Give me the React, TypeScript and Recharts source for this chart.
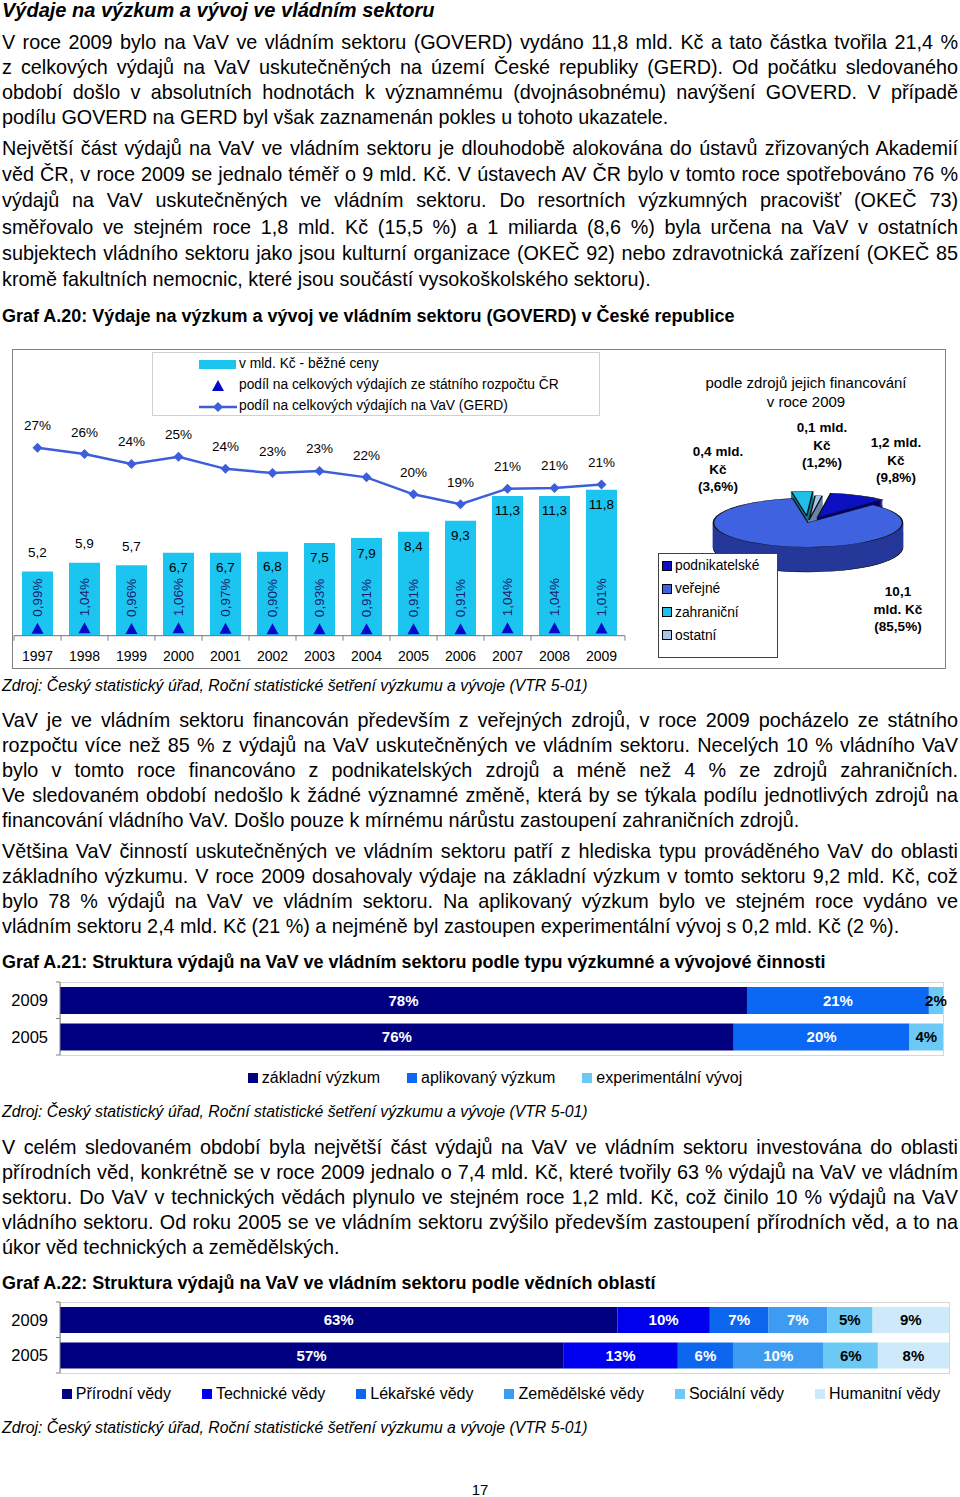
import React from "react";
import {
  ComposedChart,
  BarChart,
  PieChart,
  Pie,
  Cell,
  Bar,
  Line,
  XAxis,
  YAxis,
  LabelList,
} from "recharts";

// ---- Graf A.20 data ----
const years = ["1997", "1998", "1999", "2000", "2001", "2002", "2003", "2004", "2005", "2006", "2007", "2008", "2009"];
const goverdBn = [5.2, 5.9, 5.7, 6.7, 6.7, 6.8, 7.5, 7.9, 8.4, 9.3, 11.3, 11.3, 11.8];
const stateBudgetShare = [0.99, 1.04, 0.96, 1.06, 0.97, 0.9, 0.93, 0.91, 0.91, 0.91, 1.04, 1.04, 1.01];
const gerdShare = [26.6, 25.7, 24.3, 25.3, 23.6, 23.0, 23.3, 22.4, 20.0, 18.6, 20.8, 20.9, 21.4];

// ---- pie: zdroje financování 2009 ----
const fundingSources = ["podnikatelské", "veřejné", "zahraniční", "ostatní"];
const fundingBn = [1.2, 10.1, 0.4, 0.1];
const fundingShare = [9.8, 85.5, 3.6, 1.2];

// ---- Graf A.21 data ----
const typeYears = ["2009", "2005"];
const typeNames = ["základní výzkum", "aplikovaný výzkum", "experimentální vývoj"];
const typeShares = [
  [77.8, 76.3],
  [20.6, 19.9],
  [1.6, 3.8],
];

// ---- Graf A.22 data ----
const fieldYears = ["2009", "2005"];
const fieldNames = ["Přírodní vědy", "Technické vědy", "Lékařské vědy", "Zemědělské vědy", "Sociální vědy", "Humanitní vědy"];
const fieldShares = [
  [62.7, 56.6],
  [10.4, 12.9],
  [6.6, 6.2],
  [6.6, 10.2],
  [5.1, 6.1],
  [8.6, 8.0],
];

const comma = (v: number, d = 1) => v.toFixed(d).replace(".", ",");

const BAR_CYAN = "#1bc5f0";
const LINE_BLUE = "#3d5edb";
const TRI_BLUE = "#0808cc";

const para1 = [
  "V roce 2009 bylo na VaV ve vládním sektoru (GOVERD) vydáno 11,8 mld. Kč a tato částka tvořila 21,4 %",
  "z celkových výdajů na VaV uskutečněných na území České republiky (GERD). Od počátku sledovaného",
  "období došlo v absolutních hodnotách k významnému (dvojnásobnému) navýšení GOVERD. V případě",
  "podílu GOVERD na GERD byl však zaznamenán pokles u tohoto ukazatele.",
];
const para2 = [
  "Největší část výdajů na VaV ve vládním sektoru je dlouhodobě alokována do ústavů zřizovaných Akademií",
  "věd ČR, v roce 2009 se jednalo téměř o 9 mld. Kč. V ústavech AV ČR bylo v tomto roce spotřebováno 76 %",
  "výdajů na VaV uskutečněných ve vládním sektoru. Do resortních výzkumných pracovišť (OKEČ 73)",
  "směřovalo ve stejném roce 1,8 mld. Kč (15,5 %) a 1 miliarda (8,6 %) byla určena na VaV v ostatních",
  "subjektech vládního sektoru jako jsou kulturní organizace (OKEČ 92) nebo zdravotnická zařízení (OKEČ 85",
  "kromě fakultních nemocnic, které jsou součástí vysokoškolského sektoru).",
];
const para3 = [
  "VaV je ve vládním sektoru financován především z veřejných zdrojů, v roce 2009 pocházelo ze státního",
  "rozpočtu více než 85 % z výdajů na VaV uskutečněných ve vládním sektoru. Necelých 10 % vládního VaV",
  "bylo v tomto roce financováno z podnikatelských zdrojů a méně než 4 % ze zdrojů zahraničních.",
  "Ve sledovaném období nedošlo k žádné významné změně, která by se týkala podílu jednotlivých zdrojů na",
  "financování vládního VaV. Došlo pouze k mírnému nárůstu zastoupení zahraničních zdrojů.",
];
const para4 = [
  "Většina VaV činností uskutečněných ve vládním sektoru patří z hlediska  typu prováděného VaV do oblasti",
  "základního výzkumu. V roce 2009 dosahovaly výdaje na základní výzkum v tomto sektoru 9,2 mld. Kč, což",
  "bylo 78 % výdajů na VaV ve vládním sektoru. Na aplikovaný výzkum bylo ve stejném roce vydáno ve",
  "vládním sektoru 2,4 mld. Kč (21 %) a nejméně byl zastoupen experimentální vývoj s 0,2 mld. Kč (2 %).",
];
const para5 = [
  "V celém sledovaném období byla největší část výdajů na VaV ve vládním sektoru investována do oblasti",
  "přírodních věd, konkrétně se v roce 2009 jednalo o 7,4 mld. Kč, které tvořily 63 % výdajů na VaV ve vládním",
  "sektoru. Do VaV v technických vědách plynulo ve stejném roce 1,2 mld. Kč, což činilo 10 % výdajů na VaV",
  "vládního sektoru. Od roku 2005 se ve vládním sektoru zvýšilo především zastoupení přírodních věd, a to na",
  "úkor věd technických a zemědělských.",
];
const SOURCE = "Zdroj: Český statistický úřad, Roční statistické šetření výzkumu a vývoje (VTR 5-01)";

const Para = ({ top, lh, lines }: any) => (
  <div style={{ position: "absolute", left: 2, top, width: 956, fontSize: 19.8, lineHeight: `${lh}px` }}>
    {lines.map((t: string, i: number) => (
      <div
        key={i}
        style={{
          whiteSpace: "nowrap",
          textAlign: "justify",
          textAlignLast: i === lines.length - 1 ? "left" : "justify",
        }}
      >
        {t}
      </div>
    ))}
  </div>
);

const Heading = ({ top, children, style }: any) => (
  <div style={{ position: "absolute", left: 2, top, lineHeight: "20px", whiteSpace: "nowrap", ...style }}>
    {children}
  </div>
);

const Source = ({ top }: any) => (
  <div style={{ position: "absolute", left: 2, top, fontSize: 15.8, fontStyle: "italic", lineHeight: "18px", whiteSpace: "nowrap" }}>
    {SOURCE}
  </div>
);

// ---------- Graf A.20 ----------
const BAND = 47;

const YearTick = ({ x, y, payload, index }: any) => (
  <g>
    <line x1={x - BAND / 2} x2={x - BAND / 2} y1={y - 15} y2={y - 10} stroke="#808080" />
    {index === years.length - 1 && (
      <line x1={x + BAND / 2} x2={x + BAND / 2} y1={y - 15} y2={y - 10} stroke="#808080" />
    )}
    <text x={x} y={y} dy="0.71em" textAnchor="middle" fontSize={14} fill="#000">
      {payload.value}
    </text>
  </g>
);

const BarValue = (props: any) => {
  const { x, y, width, value } = props;
  const above = value < 6;
  return (
    <text
      x={x + width / 2}
      y={above ? y - 19 : y + 15}
      textAnchor="middle"
      dominantBaseline="central"
      fontSize={13.5}
      fill="#000"
    >
      {comma(value)}
    </text>
  );
};

const RotatedShare = (props: any) => {
  const { x, y, value } = props;
  const ty = y - 12;
  return (
    <text
      x={x}
      y={ty}
      transform={`rotate(-90 ${x} ${ty})`}
      textAnchor="start"
      dominantBaseline="central"
      fontSize={13.5}
      fill="#1b1b6b"
    >
      {comma(value, 2) + "%"}
    </text>
  );
};

const GerdLabel = (props: any) => {
  const { x, y, value } = props;
  return (
    <text x={x} y={y - 22} textAnchor="middle" dominantBaseline="central" fontSize={13.5} fill="#000">
      {Math.round(value) + "%"}
    </text>
  );
};

const Triangle = (props: any) => {
  const { cx, cy } = props;
  if (cx == null || cy == null) return null;
  return <path d={`M${cx},${cy - 6} L${cx + 6},${cy + 5} L${cx - 6},${cy + 5} Z`} fill={TRI_BLUE} />;
};

const Diamond = (props: any) => {
  const { cx, cy } = props;
  if (cx == null || cy == null) return null;
  return <path d={`M${cx},${cy - 5} L${cx + 5},${cy} L${cx},${cy + 5} L${cx - 5},${cy} Z`} fill={LINE_BLUE} />;
};

const goverdData = years.map((year, i) => ({
  year,
  goverd: goverdBn[i],
  state: stateBudgetShare[i],
  gerd: gerdShare[i],
}));

const GoverdChart = () => (
  <div style={{ position: "absolute", left: 0, top: 340 }}>
    <ComposedChart width={640} height={340} data={goverdData} margin={{ top: 20, right: 15, bottom: 14.3, left: 14 }}>
      <XAxis
        dataKey="year"
        height={30}
        axisLine={{ stroke: "#707070" }}
        tickLine={false}
        tickSize={5}
        tickMargin={10}
        interval={0}
        tick={<YearTick />}
      />
      <YAxis yAxisId="bn" hide domain={[0, 22.3]} />
      <YAxis yAxisId="pct" hide orientation="right" domain={[0, 39]} />
      <Bar yAxisId="bn" dataKey="goverd" barSize={31} fill={BAR_CYAN} isAnimationActive={false}>
        <LabelList dataKey="goverd" content={<BarValue />} />
      </Bar>
      <Line
        yAxisId="pct"
        dataKey="state"
        stroke="none"
        dot={<Triangle />}
        activeDot={false}
        isAnimationActive={false}
      >
        <LabelList dataKey="state" content={<RotatedShare />} />
      </Line>
      <Line
        yAxisId="pct"
        dataKey="gerd"
        stroke={LINE_BLUE}
        strokeWidth={2.5}
        dot={<Diamond />}
        activeDot={false}
        isAnimationActive={false}
      >
        <LabelList dataKey="gerd" content={<GerdLabel />} />
      </Line>
    </ComposedChart>
  </div>
);

const GoverdLegend = () => (
  <div style={{ position: "absolute", left: 152, top: 352, width: 448, height: 64, border: "1px solid #d0d0d0", boxSizing: "border-box", fontSize: 13.8 }}>
    <div style={{ position: "absolute", left: 46, top: 7, width: 37, height: 9, background: BAR_CYAN }} />
    <svg style={{ position: "absolute", left: 59, top: 27 }} width={12} height={12}>
      <path d="M6,0 L12,11 L0,11 Z" fill={TRI_BLUE} />
    </svg>
    <svg style={{ position: "absolute", left: 46, top: 48 }} width={38} height={12}>
      <line x1={0} x2={38} y1={6} y2={6} stroke={LINE_BLUE} strokeWidth={2.5} />
      <path d="M19,1 L24,6 L19,11 L14,6 Z" fill={LINE_BLUE} />
    </svg>
    <div style={{ position: "absolute", left: 86, top: 3, lineHeight: "16px", whiteSpace: "nowrap" }}>v mld. Kč - běžné ceny</div>
    <div style={{ position: "absolute", left: 86, top: 24, lineHeight: "16px", whiteSpace: "nowrap" }}>
      podíl na celkových výdajích ze státního rozpočtu ČR
    </div>
    <div style={{ position: "absolute", left: 86, top: 45, lineHeight: "16px", whiteSpace: "nowrap" }}>
      podíl na celkových výdajích na VaV (GERD)
    </div>
  </div>
);

// ---------- pie ----------
const PIE_SCALE = 0.259;
const PIE_R = 94.5;
const PIE_CX = 110;
const PIE_CY = 130;
const PIE_DEPTH = 96;
const PIE_START = 82;
const topColors = ["#0b10c2", "#3f62e0", "#1fc0e8", "#aac4e6"];
const sideColors = ["#00006c", "#26399a", "#0d7c9c", "#6b84a8"];
const explodeBy = [22, 0, 26, 10];

const pieData = fundingSources.map((name, i) => ({ name, value: fundingShare[i] }));
const pieTotal = fundingShare.reduce((a, b) => a + b, 0);
const midAngles = (() => {
  let acc = 0;
  return fundingShare.map((v) => {
    const a = PIE_START - ((acc + v / 2) / pieTotal) * 360;
    acc += v;
    return a;
  });
})();
const offsets = midAngles.map((a, i) => ({
  dx: explodeBy[i] * Math.cos((a * Math.PI) / 180),
  dy: -explodeBy[i] * Math.sin((a * Math.PI) / 180),
}));
const LAYERS = 24;

const sliceLayer = (s: number, lift: number, colors: string[], stroke: string, key: string) => (
  <Pie
    key={key}
    data={pieData}
    dataKey="value"
    cx={PIE_CX + offsets[s].dx}
    cy={PIE_CY + offsets[s].dy + lift}
    outerRadius={PIE_R}
    startAngle={PIE_START}
    endAngle={PIE_START - 360}
    isAnimationActive={false}
    label={false}
    labelLine={false}
  >
    {pieData.map((d, i) => (
      <Cell
        key={d.name}
        fill={i === s ? colors[i] : "none"}
        stroke={i === s ? (stroke === "same" ? colors[i] : stroke) : "none"}
        strokeWidth={i === s ? 1.5 : 0}
      />
    ))}
  </Pie>
);

const FundingPie = () => {
  const layers: any[] = [];
  for (let k = 0; k < LAYERS; k++) {
    const lift = PIE_DEPTH * (1 - k / LAYERS);
    fundingSources.forEach((_, s) => {
      layers.push(sliceLayer(s, lift, sideColors, k === 0 ? "#000" : "same", `side-${k}-${s}`));
    });
  }
  fundingSources.forEach((_, s) => layers.push(sliceLayer(s, 0, topColors, "#111", `top-${s}`)));
  return (
    <div
      style={{
        position: "absolute",
        left: 807.5 - PIE_CX,
        top: 522.5 - PIE_CY * PIE_SCALE,
        transform: `scaleY(${PIE_SCALE})`,
        transformOrigin: "0 0",
      }}
    >
      <PieChart width={220} height={340} margin={{ top: 0, right: 0, bottom: 0, left: 0 }}>
        {layers}
      </PieChart>
    </div>
  );
};

const PieNote = ({ cx, top, lines }: any) => (
  <div style={{ position: "absolute", left: cx - 50, top, width: 100, textAlign: "center", fontSize: 13.5, fontWeight: "bold", lineHeight: "17.5px" }}>
    {lines.map((l: string, i: number) => (
      <div key={i}>{l}</div>
    ))}
  </div>
);

const PieLegend = () => (
  <div style={{ position: "absolute", left: 658, top: 553, width: 120, height: 105, border: "1px solid #404040", background: "#fff", boxSizing: "border-box", fontSize: 13.8 }}>
    {fundingSources.map((name, i) => (
      <div key={name} style={{ position: "absolute", left: 3, top: 3 + i * 23.3, lineHeight: "17px", display: "flex", alignItems: "center", whiteSpace: "nowrap" }}>
        <span style={{ display: "inline-block", width: 8, height: 8, background: topColors[i], border: "1px solid #000", marginRight: 3 }} />
        {name}
      </div>
    ))}
  </div>
);

// ---------- Graf A.21 / A.22 ----------
const StructureChart = ({ top, height, plotRight, barSize, categories, names, values, colors, darkText, legendTop, legendCenter, legendGap }: any) => {
  const rows = categories.map((c: string, i: number) => {
    const r: any = { year: c };
    names.forEach((n: string, j: number) => (r[n] = values[j][i]));
    return r;
  });
  const plotTop = top + 7;
  const plotH = height - 12;
  const band = plotH / categories.length;
  const CatTick = ({ x, y, payload, index }: any) => (
    <g>
      <line x1={x + 8} x2={x + 4} y1={y - band / 2} y2={y - band / 2} stroke="#808080" />
      {index === categories.length - 1 && (
        <line x1={x + 8} x2={x + 4} y1={y + band / 2} y2={y + band / 2} stroke="#808080" />
      )}
      <text x={x - 4} y={y} textAnchor="end" dominantBaseline="central" fontSize={16.5} fill="#000">
        {payload.value}
      </text>
    </g>
  );
  return (
    <>
      <div style={{ position: "absolute", left: 60, top: plotTop, width: plotRight - 60 + 1, height: plotH + 1, border: "1px solid #d6d6d6", boxSizing: "border-box" }} />
      <div style={{ position: "absolute", left: 0, top }}>
        <BarChart
          layout="vertical"
          width={960}
          height={height}
          data={rows}
          margin={{ top: 7, right: 960 - plotRight, bottom: 5, left: 0 }}
        >
          <XAxis type="number" domain={[0, 100]} hide />
          <YAxis type="category" dataKey="year" width={60} axisLine={{ stroke: "#808080" }} tickLine={false} tick={<CatTick />} />
          {names.map((n: string, j: number) => (
            <Bar key={n} dataKey={n} stackId="s" fill={colors[j]} barSize={barSize} isAnimationActive={false}>
              <LabelList
                dataKey={n}
                position="center"
                formatter={(v: any) => Math.round(v) + "%"}
                fill={darkText[j] ? "#000" : "#fff"}
                fontWeight="bold"
                fontSize={15}
              />
            </Bar>
          ))}
        </BarChart>
      </div>
      <div style={{ position: "absolute", left: legendCenter - 600, top: legendTop, width: 1200, display: "flex", justifyContent: "center", gap: legendGap, fontSize: 16, lineHeight: "18px" }}>
        {names.map((n: string, j: number) => (
          <div key={n} style={{ display: "flex", alignItems: "center", whiteSpace: "nowrap" }}>
            <span style={{ display: "inline-block", width: 10, height: 10, background: colors[j], marginRight: 4 }} />
            {n}
          </div>
        ))}
      </div>
    </>
  );
};

export default function App() {
  return (
    <div style={{ position: "relative", width: 960, height: 1497, overflow: "hidden", background: "#fff", color: "#000", fontFamily: '"Liberation Sans", Arial, sans-serif' }}>
      <style>{`body{margin:0}`}</style>

      <Heading top={0} style={{ fontSize: 20, fontWeight: "bold", fontStyle: "italic" }}>
        Výdaje na výzkum a vývoj ve vládním sektoru
      </Heading>
      <Para top={29.5} lh={25} lines={para1} />
      <Para top={135} lh={26.2} lines={para2} />
      <Heading top={306} style={{ fontSize: 18, fontWeight: "bold" }}>
        Graf A.20: Výdaje na výzkum a vývoj ve vládním sektoru (GOVERD) v České republice
      </Heading>

      <div style={{ position: "absolute", left: 12, top: 349, width: 934, height: 320, border: "1px solid #808080", boxSizing: "border-box" }} />
      <GoverdChart />
      <GoverdLegend />

      <div style={{ position: "absolute", left: 656, top: 373, width: 300, textAlign: "center", fontSize: 15, lineHeight: "19px" }}>
        <div>podle zdrojů jejich financování</div>
        <div>v roce 2009</div>
      </div>
      <FundingPie />
      <PieNote cx={718} top={443} lines={[comma(fundingBn[2]) + " mld.", "Kč", "(" + comma(fundingShare[2]) + "%)"]} />
      <PieNote cx={822} top={419} lines={[comma(fundingBn[3]) + " mld.", "Kč", "(" + comma(fundingShare[3]) + "%)"]} />
      <PieNote cx={896} top={434} lines={[comma(fundingBn[0]) + " mld.", "Kč", "(" + comma(fundingShare[0]) + "%)"]} />
      <PieNote cx={898} top={583} lines={[comma(fundingBn[1]), "mld. Kč", "(" + comma(fundingShare[1]) + "%)"]} />
      <PieLegend />

      <Source top={677} />
      <Para top={707.5} lh={25} lines={para3} />
      <Para top={838.5} lh={25} lines={para4} />
      <Heading top={952} style={{ fontSize: 18, fontWeight: "bold" }}>
        Graf A.21: Struktura výdajů na VaV ve vládním sektoru podle typu výzkumné a vývojové činnosti
      </Heading>

      <StructureChart
        top={975}
        height={85}
        plotRight={943}
        barSize={27}
        categories={typeYears}
        names={typeNames}
        values={typeShares}
        colors={["#000080", "#0a68f4", "#6cc9f6"]}
        darkText={[false, false, true]}
        legendTop={1069}
        legendCenter={495}
        legendGap={27}
      />
      <Source top={1103} />
      <Para top={1134.5} lh={25} lines={para5} />
      <Heading top={1273} style={{ fontSize: 18, fontWeight: "bold" }}>
        Graf A.22: Struktura výdajů na VaV ve vládním sektoru podle vědních oblastí
      </Heading>

      <StructureChart
        top={1295}
        height={83}
        plotRight={949}
        barSize={26}
        categories={fieldYears}
        names={fieldNames}
        values={fieldShares}
        colors={["#000080", "#0000ee", "#0c66ee", "#3d9cf2", "#6cc9f6", "#cde9fa"]}
        darkText={[false, false, false, false, true, true]}
        legendTop={1385}
        legendCenter={501}
        legendGap={31}
      />
      <Source top={1419} />
      <div style={{ position: "absolute", left: 0, width: 960, top: 1481, textAlign: "center", fontSize: 15, lineHeight: "18px" }}>17</div>
    </div>
  );
}
